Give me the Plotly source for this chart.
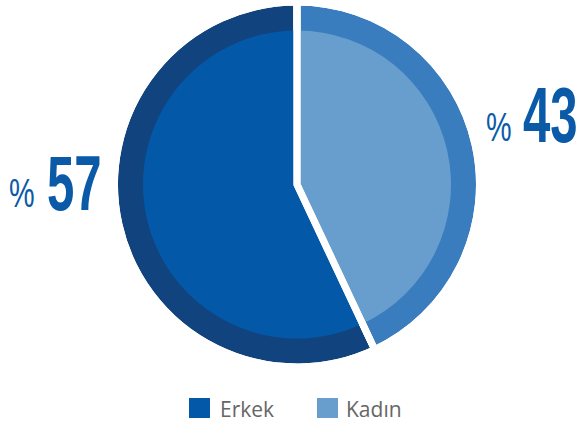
import plotly.graph_objects as go

# ---- data ----
categories = ["Erkek", "Kadın"]
values = [57, 43]
inner_colors = ["#0458A8", "#689ECE"]
outer_colors = ["#11437F", "#3A7DBE"]

W, H = 580, 426
CX, CY = 297, 184.5          # pie centre in px
R_OUT, R_IN = 182.5, 154

# first slice (Erkek) ends at 12 o'clock, drawn on the left side
start_rot = -360 * values[0] / sum(values)


def px_x(x):
    return x / W


def px_y(y):
    return 1 - y / H


def dom(r):
    return dict(x=[px_x(CX - r), px_x(CX + r)], y=[px_y(CY + r), px_y(CY - r)])


common = dict(labels=categories, values=values, sort=False, direction="clockwise",
              rotation=start_rot, textinfo="none", hoverinfo="label+percent", showlegend=False)

fig = go.Figure()
fig.add_trace(go.Pie(**common, domain=dom(R_OUT),
                     marker=dict(colors=outer_colors, line=dict(color="white", width=7))))
fig.add_trace(go.Pie(**common, domain=dom(R_IN),
                     marker=dict(colors=inner_colors, line=dict(width=0))))
fig.add_trace(go.Pie(**common, domain=dom(R_OUT),
                     marker=dict(colors=["rgba(0,0,0,0)"] * 2, line=dict(color="white", width=7))))

num_font = "Liberation Sans, Arial, sans-serif"
txt_color = "#0A5AA8"
annotations = []
# percentage labels: (category index, % centre x, % centre y, number centre x, number centre y)
label_pos = [(0, 22, 193, 74.5, 183), (1, 498.5, 127, 550, 115.5)]
for i, xp, yp, xn, yn in label_pos:
    annotations.append(dict(text="%", x=px_x(xp), y=px_y(yp), xref="paper", yref="paper",
                            xanchor="center", yanchor="middle", showarrow=False,
                            font=dict(family=num_font, size=40, color=txt_color)))
    annotations.append(dict(text=str(values[i]), x=px_x(xn), y=px_y(yn), xref="paper", yref="paper",
                            xanchor="center", yanchor="middle", showarrow=False,
                            font=dict(family=num_font, size=78, color=txt_color, weight="bold")))

# legend
shapes = []
leg_pos = [(189, 220), (317, 346)]
for i, (sx, tx) in enumerate(leg_pos):
    shapes.append(dict(type="rect", xref="paper", yref="paper",
                       x0=px_x(sx), x1=px_x(sx + 21), y0=px_y(418), y1=px_y(398),
                       fillcolor=inner_colors[i], line=dict(width=0)))
    annotations.append(dict(text=categories[i], x=px_x(tx - 2), y=px_y(409), xref="paper", yref="paper",
                            xanchor="left", yanchor="middle", showarrow=False,
                            font=dict(family="Open Sans, sans-serif", size=21, color="#666666")))

fig.update_layout(width=W, height=H, margin=dict(l=0, r=0, t=0, b=0),
                  paper_bgcolor="white", plot_bgcolor="white",
                  annotations=annotations, shapes=shapes, showlegend=False)

# remove page margin; condense the big percentage labels horizontally
post = """
document.body.style.margin = '0';
var gd = document.getElementById('{plot_id}');
function squeeze() {
  gd.querySelectorAll('text.annotation-text').forEach(function (t) {
    var s = t.textContent.trim();
    var k = /^\\d+$/.test(s) ? 0.63 : (s === '%' ? 0.72 : 1);
    if (k === 1) return;
    var bb = t.getBBox();
    var c = bb.x + bb.width / 2;
    t.setAttribute('transform', 'translate(' + c + ',0) scale(' + k + ',1) translate(' + (-c) + ',0)');
  });
}
squeeze();
gd.on('plotly_afterplot', squeeze);
"""

fig.write_html("out.html", post_script=post, config={"displayModeBar": False})
